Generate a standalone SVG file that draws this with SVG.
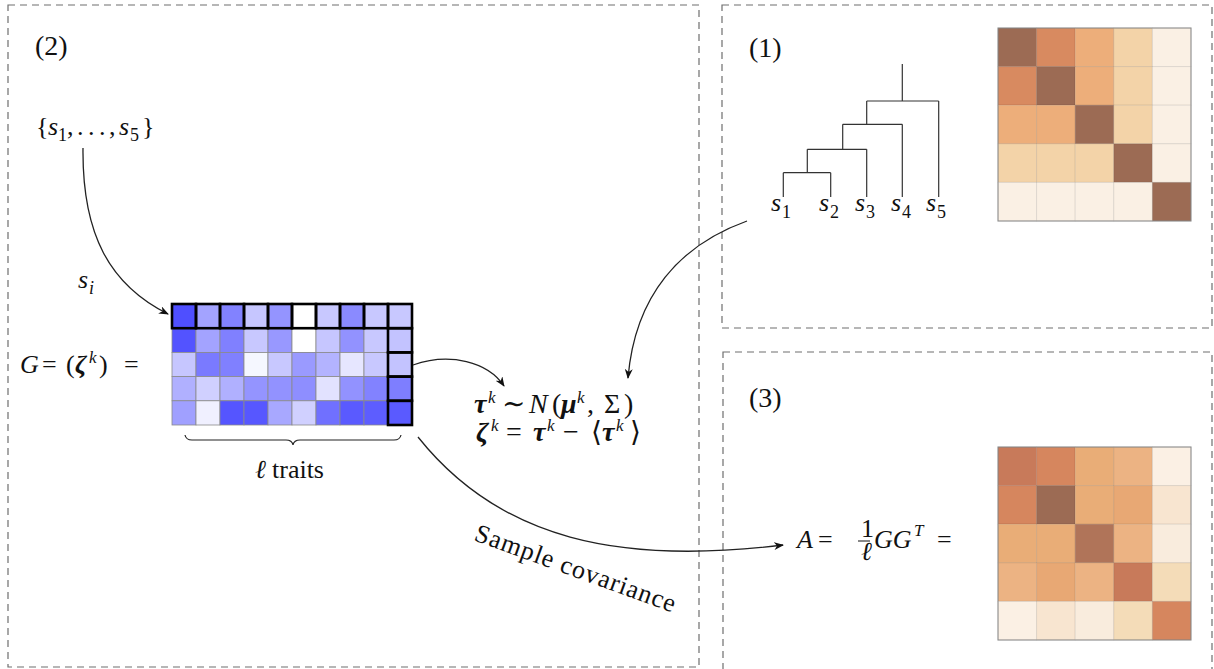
<svg xmlns="http://www.w3.org/2000/svg" width="1214" height="669" viewBox="0 0 1214 669">
<style>
text{font-family:"Liberation Serif","Times New Roman","DejaVu Serif",serif;fill:#111;font-size:26px}
.it{font-style:italic}
.bi{font-style:italic;font-weight:bold}
.sup{font-size:17px;font-style:italic}
.sub{font-size:18px}
.num{font-size:28px}
.eq{font-size:28px}
.dash{fill:none;stroke:#6e6e6e;stroke-width:1.2;stroke-dasharray:7 5}
.bc{stroke:#8a8a8a;stroke-width:0.8}
.hl{fill:none;stroke:#000;stroke-width:2.6}
.oc{stroke:#000;stroke-opacity:0.08;stroke-width:1}
.edge{fill:none;stroke:#222;stroke-width:1.3}
.tree{fill:none;stroke:#333;stroke-width:1.2}
</style>
<defs>
<marker id="ah" viewBox="0 0 10 8" refX="9" refY="4" markerWidth="10" markerHeight="8" markerUnits="userSpaceOnUse" orient="auto">
<path d="M0,0 L10,4 L0,8 L3,4 z" fill="#111"/>
</marker>
</defs>
<rect width="1214" height="669" fill="#fff"/>

<g id="panels">
<rect class="dash" x="8" y="5" width="691" height="662"/>
<rect class="dash" x="722" y="5" width="490" height="323"/>
<rect class="dash" x="723" y="352" width="489" height="330"/>
</g>

<g id="labels">
<text x="35" y="55" class="num">(2)</text>
<text x="749" y="57" class="num">(1)</text>
<text x="749" y="407" class="num">(3)</text>
</g>

<g id="species-set">
<text x="36" y="135">{</text>
<text x="48" y="135" class="it">s</text>
<text x="58" y="141" class="sub">1</text>
<text x="67" y="135">,</text>
<text x="77" y="135">.</text>
<text x="88" y="135">.</text>
<text x="99" y="135">.</text>
<text x="109" y="135">,</text>
<text x="119" y="135" class="it">s</text>
<text x="130" y="141" class="sub">5</text>
<text x="142" y="135">}</text>
</g>

<g id="G-label">
<text x="20" y="373" class="it">G</text>
<text x="42" y="373">=</text>
<text x="66" y="373">(</text>
<text x="75" y="373" class="bi">ζ</text>
<text x="89" y="363" class="sup">k</text>
<text x="99" y="373">)</text>
<text x="124" y="373">=</text>
</g>

<g id="G-matrix">
<g class="bc">
<rect x="172" y="304" width="24" height="24.2" fill="#4f4fff"/>
<rect x="196" y="304" width="24" height="24.2" fill="#a3a3ff"/>
<rect x="220" y="304" width="24" height="24.2" fill="#8282ff"/>
<rect x="244" y="304" width="24" height="24.2" fill="#c6c6ff"/>
<rect x="268" y="304" width="24" height="24.2" fill="#9494ff"/>
<rect x="292" y="304" width="24" height="24.2" fill="#ffffff"/>
<rect x="316" y="304" width="24" height="24.2" fill="#c8c8ff"/>
<rect x="340" y="304" width="24" height="24.2" fill="#8a8aff"/>
<rect x="364" y="304" width="24" height="24.2" fill="#c8c8ff"/>
<rect x="388" y="304" width="24" height="24.2" fill="#c8c8ff"/>

<rect x="172" y="328.2" width="24" height="24.2" fill="#5353ff"/>
<rect x="196" y="328.2" width="24" height="24.2" fill="#a3a3ff"/>
<rect x="220" y="328.2" width="24" height="24.2" fill="#8080ff"/>
<rect x="244" y="328.2" width="24" height="24.2" fill="#c8c8ff"/>
<rect x="268" y="328.2" width="24" height="24.2" fill="#9898ff"/>
<rect x="292" y="328.2" width="24" height="24.2" fill="#ffffff"/>
<rect x="316" y="328.2" width="24" height="24.2" fill="#c6c6ff"/>
<rect x="340" y="328.2" width="24" height="24.2" fill="#9292ff"/>
<rect x="364" y="328.2" width="24" height="24.2" fill="#c8c8ff"/>
<rect x="388" y="328.2" width="24" height="24.2" fill="#c3c3ff"/>

<rect x="172" y="352.4" width="24" height="24.2" fill="#c6c6ff"/>
<rect x="196" y="352.4" width="24" height="24.2" fill="#7a7aff"/>
<rect x="220" y="352.4" width="24" height="24.2" fill="#8080ff"/>
<rect x="244" y="352.4" width="24" height="24.2" fill="#f5f7ff"/>
<rect x="268" y="352.4" width="24" height="24.2" fill="#c8c8ff"/>
<rect x="292" y="352.4" width="24" height="24.2" fill="#9a9aff"/>
<rect x="316" y="352.4" width="24" height="24.2" fill="#b3b3ff"/>
<rect x="340" y="352.4" width="24" height="24.2" fill="#e6e6ff"/>
<rect x="364" y="352.4" width="24" height="24.2" fill="#c8c8ff"/>
<rect x="388" y="352.4" width="24" height="24.2" fill="#c3c3ff"/>

<rect x="172" y="376.6" width="24" height="24.2" fill="#b0b0ff"/>
<rect x="196" y="376.6" width="24" height="24.2" fill="#d0d0ff"/>
<rect x="220" y="376.6" width="24" height="24.2" fill="#b0b0ff"/>
<rect x="244" y="376.6" width="24" height="24.2" fill="#9494ff"/>
<rect x="268" y="376.6" width="24" height="24.2" fill="#9292ff"/>
<rect x="292" y="376.6" width="24" height="24.2" fill="#8e8eff"/>
<rect x="316" y="376.6" width="24" height="24.2" fill="#e2e2ff"/>
<rect x="340" y="376.6" width="24" height="24.2" fill="#9292ff"/>
<rect x="364" y="376.6" width="24" height="24.2" fill="#8282ff"/>
<rect x="388" y="376.6" width="24" height="24.2" fill="#7e7eff"/>

<rect x="172" y="400.8" width="24" height="24.2" fill="#a0a0ff"/>
<rect x="196" y="400.8" width="24" height="24.2" fill="#f0f0ff"/>
<rect x="220" y="400.8" width="24" height="24.2" fill="#5555ff"/>
<rect x="244" y="400.8" width="24" height="24.2" fill="#5757ff"/>
<rect x="268" y="400.8" width="24" height="24.2" fill="#a8a8ff"/>
<rect x="292" y="400.8" width="24" height="24.2" fill="#d0d0ff"/>
<rect x="316" y="400.8" width="24" height="24.2" fill="#7070ff"/>
<rect x="340" y="400.8" width="24" height="24.2" fill="#5a5aff"/>
<rect x="364" y="400.8" width="24" height="24.2" fill="#5d5dff"/>
<rect x="388" y="400.8" width="24" height="24.2" fill="#5a5aff"/>
</g>
<g class="hl">
<rect x="172" y="304" width="24" height="24.2"/>
<rect x="196" y="304" width="24" height="24.2"/>
<rect x="220" y="304" width="24" height="24.2"/>
<rect x="244" y="304" width="24" height="24.2"/>
<rect x="268" y="304" width="24" height="24.2"/>
<rect x="292" y="304" width="24" height="24.2"/>
<rect x="316" y="304" width="24" height="24.2"/>
<rect x="340" y="304" width="24" height="24.2"/>
<rect x="364" y="304" width="24" height="24.2"/>
<rect x="388" y="304" width="24" height="24.2"/>
<rect x="388" y="328.2" width="24" height="24.2"/>
<rect x="388" y="352.4" width="24" height="24.2"/>
<rect x="388" y="376.6" width="24" height="24.2"/>
<rect x="388" y="400.8" width="24" height="24.2"/>
</g>
</g>

<g id="brace">
<path d="M185,435 Q186,440 192,440 L286,440 Q292,440 293,445 Q294,440 300,440 L394,440 Q400,440 401,435" fill="none" stroke="#222" stroke-width="1.2"/>
<text x="255" y="478" font-size="24" class="it">ℓ</text>
<text x="272" y="478" font-size="24">traits</text>
</g>

<g id="equations">
<text x="474" y="413" class="bi eq">τ</text>
<text x="488" y="403" class="sup">k</text>
<text x="502" y="413" class="eq">∼</text>
<text x="529" y="413" class="it eq">N</text>
<text x="552" y="413" class="eq">(</text>
<text x="561" y="413" class="bi eq">μ</text>
<text x="577" y="403" class="sup">k</text>
<text x="587" y="413" class="eq">,</text>
<text x="604" y="413" class="eq">Σ</text>
<text x="624" y="413" class="eq">)</text>

<text x="476" y="441" class="bi eq">ζ</text>
<text x="491" y="431" class="sup">k</text>
<text x="506" y="441" class="eq">=</text>
<text x="533" y="441" class="bi eq">τ</text>
<text x="547" y="431" class="sup">k</text>
<text x="563" y="441" class="eq">−</text>
<text x="591" y="441" class="eq">⟨</text>
<text x="602" y="441" class="bi eq">τ</text>
<text x="616" y="431" class="sup">k</text>
<text x="630" y="441" class="eq">⟩</text>
</g>

<g id="tree">
<path class="tree" d="M902.3,64 V101 M866.7,101 H938.7 M938.7,101 V197 M866.7,101 V124.3 M842.7,124.3 H902.3 M902.3,124.3 V197 M842.7,124.3 V149.3 M807.3,149.3 H866.7 M866.7,149.3 V197 M807.3,149.3 V172.7 M783.3,172.7 H830.7 M783.3,172.7 V197 M830.7,172.7 V197"/>
<text x="771" y="211" class="it">s</text><text x="782" y="218" class="sub">1</text>
<text x="819" y="211" class="it">s</text><text x="830" y="218" class="sub">2</text>
<text x="855" y="211" class="it">s</text><text x="866" y="218" class="sub">3</text>
<text x="891" y="211" class="it">s</text><text x="902" y="218" class="sub">4</text>
<text x="926" y="211" class="it">s</text><text x="937" y="218" class="sub">5</text>
</g>

<g id="tree-matrix">
<g class="oc">
<rect x="998" y="28" width="38.6" height="38.6" fill="#9c6b54"/>
<rect x="1036.6" y="28" width="38.6" height="38.6" fill="#d88a60"/>
<rect x="1075.2" y="28" width="38.6" height="38.6" fill="#edae7a"/>
<rect x="1113.8" y="28" width="38.6" height="38.6" fill="#f3d3a8"/>
<rect x="1152.4" y="28" width="38.6" height="38.6" fill="#faf0e4"/>
<rect x="998" y="66.6" width="38.6" height="38.6" fill="#d88a60"/>
<rect x="1036.6" y="66.6" width="38.6" height="38.6" fill="#9c6b54"/>
<rect x="1075.2" y="66.6" width="38.6" height="38.6" fill="#edae7a"/>
<rect x="1113.8" y="66.6" width="38.6" height="38.6" fill="#f3d3a8"/>
<rect x="1152.4" y="66.6" width="38.6" height="38.6" fill="#faf0e4"/>
<rect x="998" y="105.2" width="38.6" height="38.6" fill="#edae7a"/>
<rect x="1036.6" y="105.2" width="38.6" height="38.6" fill="#edae7a"/>
<rect x="1075.2" y="105.2" width="38.6" height="38.6" fill="#9c6b54"/>
<rect x="1113.8" y="105.2" width="38.6" height="38.6" fill="#f3d3a8"/>
<rect x="1152.4" y="105.2" width="38.6" height="38.6" fill="#faf0e4"/>
<rect x="998" y="143.8" width="38.6" height="38.6" fill="#f3d3a8"/>
<rect x="1036.6" y="143.8" width="38.6" height="38.6" fill="#f3d3a8"/>
<rect x="1075.2" y="143.8" width="38.6" height="38.6" fill="#f3d3a8"/>
<rect x="1113.8" y="143.8" width="38.6" height="38.6" fill="#9c6b54"/>
<rect x="1152.4" y="143.8" width="38.6" height="38.6" fill="#faf0e4"/>
<rect x="998" y="182.4" width="38.6" height="38.6" fill="#faf0e4"/>
<rect x="1036.6" y="182.4" width="38.6" height="38.6" fill="#faf0e4"/>
<rect x="1075.2" y="182.4" width="38.6" height="38.6" fill="#faf0e4"/>
<rect x="1113.8" y="182.4" width="38.6" height="38.6" fill="#faf0e4"/>
<rect x="1152.4" y="182.4" width="38.6" height="38.6" fill="#9c6b54"/>
</g>
<rect x="998" y="28" width="193" height="193" fill="none" stroke="#888" stroke-width="1"/>
</g>

<g id="sample-matrix">
<g class="oc">
<rect x="998" y="447" width="38.6" height="38.6" fill="#c87a5a"/>
<rect x="1036.6" y="447" width="38.6" height="38.6" fill="#d6865e"/>
<rect x="1075.2" y="447" width="38.6" height="38.6" fill="#e9ad77"/>
<rect x="1113.8" y="447" width="38.6" height="38.6" fill="#ecb383"/>
<rect x="1152.4" y="447" width="38.6" height="38.6" fill="#fbf0e4"/>
<rect x="998" y="485.6" width="38.6" height="38.6" fill="#d6865e"/>
<rect x="1036.6" y="485.6" width="38.6" height="38.6" fill="#9c6b54"/>
<rect x="1075.2" y="485.6" width="38.6" height="38.6" fill="#e9ad77"/>
<rect x="1113.8" y="485.6" width="38.6" height="38.6" fill="#e8a874"/>
<rect x="1152.4" y="485.6" width="38.6" height="38.6" fill="#f8e5d0"/>
<rect x="998" y="524.2" width="38.6" height="38.6" fill="#e9ad77"/>
<rect x="1036.6" y="524.2" width="38.6" height="38.6" fill="#e9ad77"/>
<rect x="1075.2" y="524.2" width="38.6" height="38.6" fill="#b07459"/>
<rect x="1113.8" y="524.2" width="38.6" height="38.6" fill="#ecb383"/>
<rect x="1152.4" y="524.2" width="38.6" height="38.6" fill="#f9ecdd"/>
<rect x="998" y="562.8" width="38.6" height="38.6" fill="#ecb383"/>
<rect x="1036.6" y="562.8" width="38.6" height="38.6" fill="#e8a874"/>
<rect x="1075.2" y="562.8" width="38.6" height="38.6" fill="#ecb383"/>
<rect x="1113.8" y="562.8" width="38.6" height="38.6" fill="#c87a5a"/>
<rect x="1152.4" y="562.8" width="38.6" height="38.6" fill="#f4dcb8"/>
<rect x="998" y="601.4" width="38.6" height="38.6" fill="#fbf0e4"/>
<rect x="1036.6" y="601.4" width="38.6" height="38.6" fill="#f8e5d0"/>
<rect x="1075.2" y="601.4" width="38.6" height="38.6" fill="#f9ecdd"/>
<rect x="1113.8" y="601.4" width="38.6" height="38.6" fill="#f4dcb8"/>
<rect x="1152.4" y="601.4" width="38.6" height="38.6" fill="#d6865e"/>
</g>
<rect x="998" y="447" width="193" height="193" fill="none" stroke="#888" stroke-width="1"/>
</g>

<g id="A-label">
<text x="797" y="548" class="it">A</text>
<text x="818" y="548">=</text>
<text x="861" y="537" font-size="12">1</text>
<line x1="858" y1="541" x2="870" y2="541" stroke="#111" stroke-width="1"/>
<text x="861" y="560" font-size="12" class="it">ℓ</text>
<text x="874" y="548" class="it">GG</text>
<text x="914" y="536" class="sup">T</text>
<text x="937" y="548">=</text>
</g>

<g id="connectors">
<path class="edge" d="M83,148 C82,235 110,285 168,314" marker-end="url(#ah)"/>
<path class="edge" d="M413,365 C450,352 488,362 504,386" marker-end="url(#ah)"/>
<path class="edge" d="M747,221 C680,245 635,295 628,378" marker-end="url(#ah)"/>
<path class="edge" d="M418,437 C500,540 620,565 783,545" marker-end="url(#ah)"/>
<text x="78" y="288" class="it">s</text>
<text x="89" y="294" class="sub" font-style="italic">i</text>
<text x="473" y="540" transform="rotate(20 473 540)" textLength="212" lengthAdjust="spacing">Sample covariance</text>
</g>
</svg>
